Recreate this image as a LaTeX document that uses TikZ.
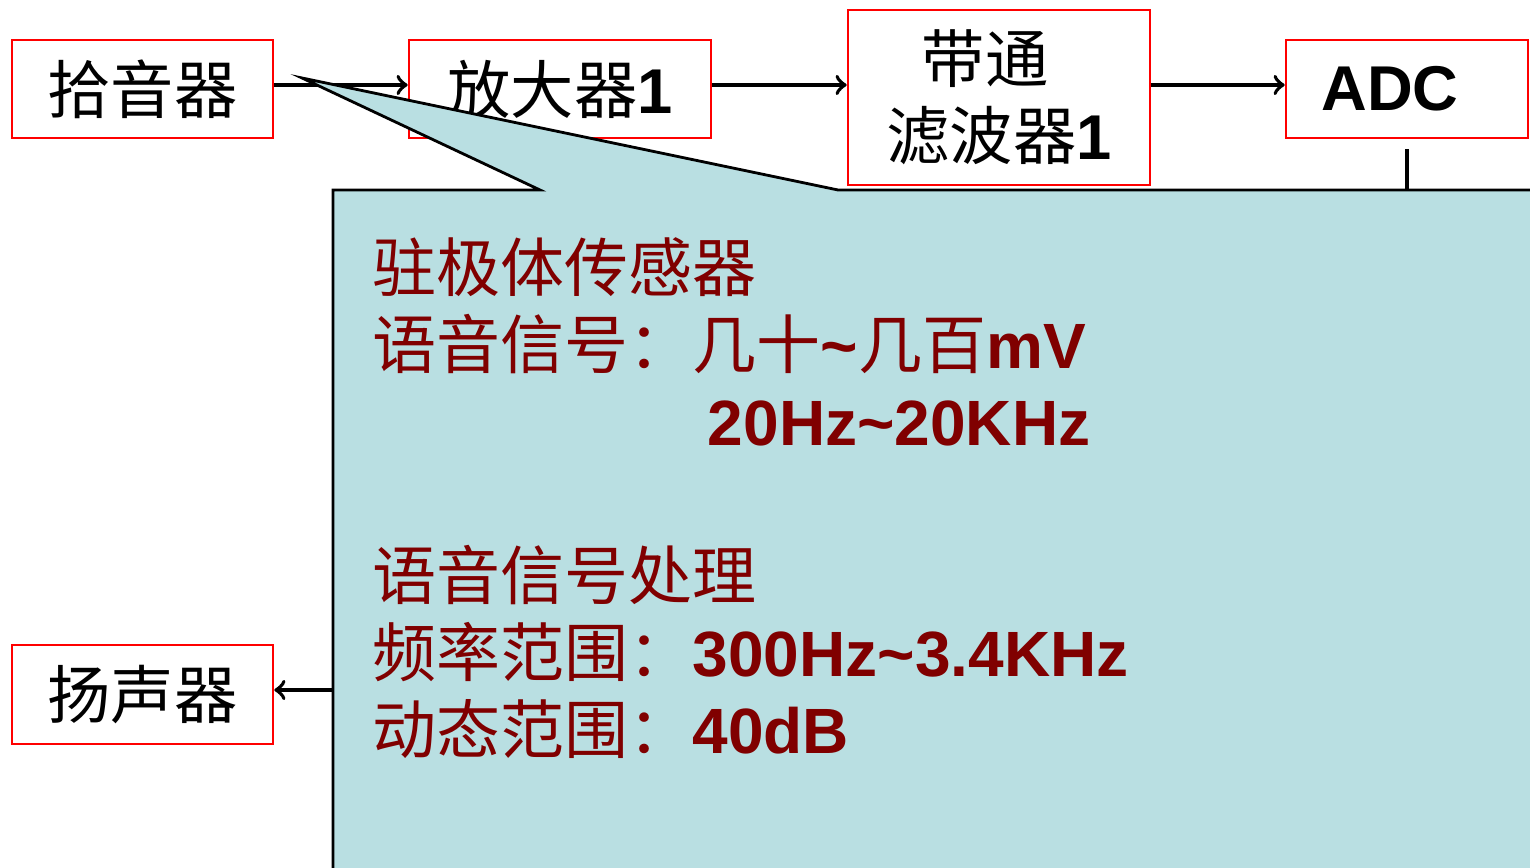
\documentclass[tikz,border=0pt]{standalone}
\usepackage{fontspec}
\setmainfont{Liberation Sans}
\newfontfamily\cjk{Noto Sans CJK SC}
\newfontfamily\lat{Liberation Sans}
\definecolor{noteRed}{RGB}{128,0,0}
\definecolor{noteFill}{RGB}{185,223,226}
\begin{document}
\begin{tikzpicture}[x=0.01cm,y=-0.01cm,
	blk/.style={draw=red,line width=0.7pt,fill=white,inner sep=0pt,align=center,
		minimum height=0.98cm,font=\fontsize{18}{22}\selectfont\cjk},
	note/.style={draw=black,line width=0.8pt,fill=noteFill},
	wire/.style={line width=1.1pt,->}]
	\useasboundingbox (0,0) rectangle (1530,868);
	% signal chain
	\node [blk,minimum width=2.61cm] (pick) at (142.5,89) {拾音器};
	\node [blk,minimum width=3.02cm] (amp) at (560,89) {放大器{\lat\bfseries 1}};
	\node [blk,minimum width=3.02cm,minimum height=1.75cm] (bpf) at (999,97.5) {带通\hspace*{0.28cm}\\滤波器{\lat\bfseries 1}};
	\node [blk,minimum width=2.42cm] (adc) at (1407,89) {\lat\bfseries ADC\hspace*{0.34cm}};
	\node [blk,minimum width=2.61cm,minimum height=0.99cm] (spk) at (142.5,694.5) {扬声器};
	\draw [wire] ([yshift=0.04cm]pick.east) -- ([yshift=0.04cm]amp.west);
	\draw [wire] ([yshift=0.04cm]amp.east) -- ([yshift=0.04cm]amp.east -| bpf.west);
	\draw [wire] ([yshift=0.04cm]bpf.east |- amp.east) -- ([yshift=0.04cm]adc.west);
	% callout
	\coordinate (tip) at (302,78);
	\coordinate (notetop) at (1407,190);
	\coordinate (noteleft) at (333,690);
	\draw [note] (333,190) -- (540,190) -- (tip) -- (838,190) -- (1560,190)
		-- (1560,900) -- (333,900) -- cycle;
	\draw [line width=1.1pt] ([yshift=-0.1cm]adc.south) -- (notetop);
	\draw [wire] (noteleft) -- (noteleft -| spk.east);
	\node [anchor=base west,align=left,text=noteRed,inner sep=0pt,
		font=\fontsize{18.2}{21.9}\selectfont\cjk] (notetext) at (372,754)
		{驻极体传感器\\
		 语音信号：几十{\lat\bfseries\textasciitilde}几百{\lat\bfseries mV}\\
		 \hspace*{3.35cm}{\lat\bfseries 20Hz\textasciitilde 20KHz}\\
		 \mbox{}\\
		 语音信号处理\\
		 频率范围：{\lat\bfseries 300Hz\textasciitilde 3.4KHz}\\
		 动态范围：{\lat\bfseries 40dB}};
\end{tikzpicture}
\end{document}
